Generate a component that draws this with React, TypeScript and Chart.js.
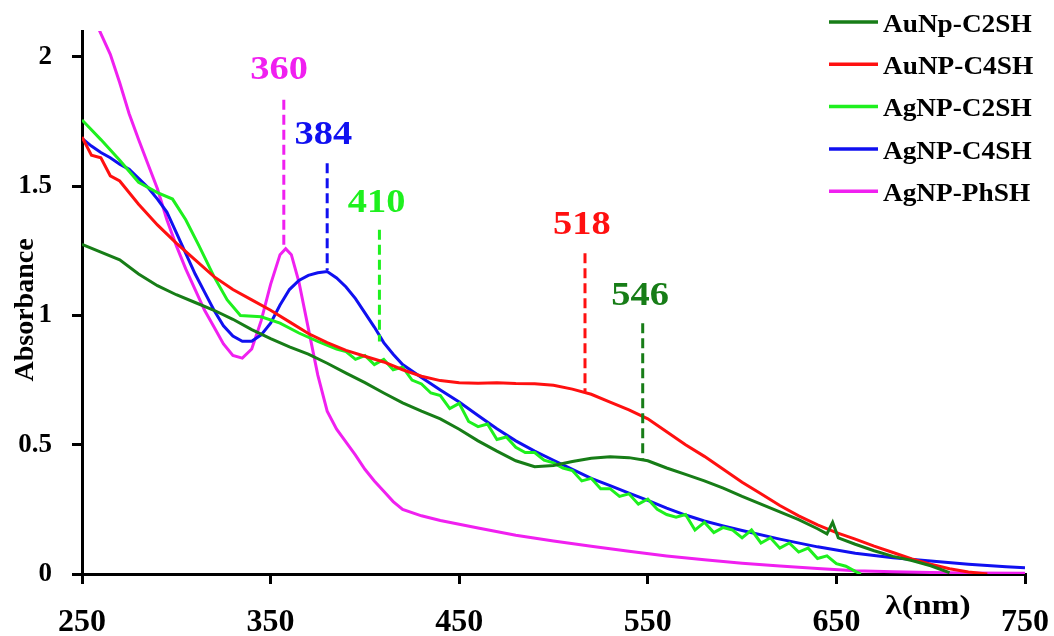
import { useEffect, useRef } from "react";
import { Chart, registerables } from "chart.js";

Chart.register(...registerables);

// ---------- data ----------
const seriesLabels = ["AuNp-C2SH", "AuNP-C4SH", "AgNP-C2SH", "AgNP-C4SH", "AgNP-PhSH"];
const seriesColors = ["#177d17", "#ff1010", "#1ef01e", "#1010f0", "#f020f0"];

const auC2Wavelength = [250, 260, 270, 280, 290, 300, 310, 320, 330, 340, 350, 360, 370, 380, 390, 400, 410, 420, 430, 440, 450, 460, 470, 480, 490, 500, 510, 520, 530, 540, 550, 560, 570, 580, 590, 600, 610, 620, 630, 640, 645, 648, 651, 660, 670, 680, 690, 700, 710];
const auC2Absorbance = [1.275, 1.245, 1.215, 1.16, 1.115, 1.08, 1.05, 1.02, 0.985, 0.945, 0.91, 0.878, 0.85, 0.815, 0.777, 0.74, 0.70, 0.662, 0.63, 0.60, 0.56, 0.515, 0.475, 0.438, 0.415, 0.42, 0.435, 0.448, 0.453, 0.45, 0.438, 0.41, 0.385, 0.36, 0.332, 0.30, 0.27, 0.24, 0.21, 0.175, 0.155, 0.2, 0.14, 0.115, 0.09, 0.068, 0.052, 0.032, 0.005];

const auC4Wavelength = [250, 255, 260, 265, 270, 280, 290, 300, 310, 320, 330, 340, 350, 360, 370, 380, 390, 400, 410, 420, 430, 440, 450, 460, 470, 480, 490, 500, 510, 520, 530, 540, 550, 560, 570, 580, 590, 600, 610, 620, 630, 640, 650, 660, 670, 680, 690, 700, 710, 720, 730];
const auC4Absorbance = [1.69, 1.62, 1.61, 1.54, 1.52, 1.43, 1.35, 1.28, 1.215, 1.15, 1.10, 1.06, 1.02, 0.975, 0.93, 0.895, 0.865, 0.842, 0.82, 0.79, 0.765, 0.748, 0.74, 0.738, 0.74, 0.737, 0.736, 0.73, 0.715, 0.695, 0.665, 0.635, 0.60, 0.55, 0.50, 0.455, 0.405, 0.355, 0.31, 0.265, 0.225, 0.19, 0.16, 0.135, 0.108, 0.083, 0.058, 0.038, 0.02, 0.008, 0];

const agC2Wavelength = [250, 260, 270, 280, 290, 298, 305, 312, 320, 327, 334, 345, 355, 365, 375, 385, 390, 395, 400, 405, 410, 415, 420, 425, 430, 435, 440, 445, 450, 455, 460, 465, 470, 475, 480, 485, 490, 495, 500, 505, 510, 515, 520, 525, 530, 535, 540, 545, 550, 555, 560, 565, 570, 575, 580, 585, 590, 595, 600, 605, 610, 615, 620, 625, 630, 635, 640, 645, 650, 655, 660, 663];
const agC2Absorbance = [1.756, 1.68, 1.60, 1.515, 1.475, 1.45, 1.37, 1.27, 1.15, 1.06, 1.0, 0.995, 0.97, 0.932, 0.90, 0.87, 0.86, 0.83, 0.845, 0.81, 0.83, 0.79, 0.8, 0.75, 0.735, 0.70, 0.69, 0.64, 0.66, 0.59, 0.57, 0.58, 0.52, 0.53, 0.49, 0.47, 0.47, 0.44, 0.43, 0.41, 0.40, 0.36, 0.37, 0.33, 0.33, 0.30, 0.31, 0.27, 0.29, 0.25, 0.23, 0.22, 0.23, 0.17, 0.2, 0.16, 0.18, 0.17, 0.14, 0.17, 0.12, 0.14, 0.10, 0.12, 0.085, 0.1, 0.06, 0.07, 0.04, 0.03, 0.01, 0];

const agC4Wavelength = [250, 255, 260, 265, 270, 275, 280, 285, 290, 295, 300, 305, 310, 315, 320, 325, 330, 335, 340, 345, 350, 355, 360, 365, 370, 375, 380, 385, 390, 395, 400, 405, 410, 415, 420, 430, 440, 450, 460, 470, 480, 490, 500, 510, 520, 530, 540, 550, 560, 570, 580, 590, 600, 620, 640, 660, 680, 700, 720, 740, 750];
const agC4Absorbance = [1.685, 1.655, 1.63, 1.61, 1.585, 1.565, 1.53, 1.495, 1.45, 1.40, 1.32, 1.24, 1.16, 1.09, 1.02, 0.96, 0.92, 0.90, 0.90, 0.925, 0.97, 1.04, 1.10, 1.135, 1.155, 1.165, 1.17, 1.145, 1.11, 1.065, 1.01, 0.955, 0.895, 0.85, 0.81, 0.76, 0.712, 0.665, 0.613, 0.562, 0.515, 0.475, 0.44, 0.405, 0.37, 0.342, 0.313, 0.285, 0.255, 0.228, 0.205, 0.186, 0.168, 0.135, 0.105, 0.08, 0.063, 0.05, 0.038, 0.028, 0.024];

const agPhWavelength = [250, 255, 260, 265, 270, 275, 280, 285, 290, 295, 300, 305, 310, 315, 320, 325, 330, 335, 340, 345, 350, 355, 358, 361, 365, 370, 375, 380, 385, 390, 395, 400, 405, 410, 415, 420, 430, 440, 460, 480, 500, 520, 540, 560, 580, 600, 620, 640, 660, 680, 700, 720, 750];
const agPhAbsorbance = [2.26, 2.17, 2.09, 2.01, 1.90, 1.78, 1.68, 1.585, 1.49, 1.37, 1.27, 1.18, 1.10, 1.02, 0.955, 0.89, 0.845, 0.835, 0.87, 0.98, 1.12, 1.235, 1.258, 1.235, 1.13, 0.95, 0.77, 0.63, 0.56, 0.51, 0.46, 0.405, 0.36, 0.32, 0.28, 0.25, 0.225, 0.207, 0.178, 0.15, 0.128, 0.107, 0.088, 0.07, 0.055, 0.042, 0.031, 0.021, 0.013, 0.009, 0.006, 0.004, 0.003];

const seriesWavelengths = [auC2Wavelength, auC4Wavelength, agC2Wavelength, agC4Wavelength, agPhWavelength];
const seriesAbsorbances = [auC2Absorbance, auC4Absorbance, agC2Absorbance, agC4Absorbance, agPhAbsorbance];

// peak annotations
const peakLabels = ["360", "384", "410", "518", "546"];
const peakSeries = [4, 3, 2, 1, 0];
const peakLineX = [357, 380, 407.7, 516.7, 547.3];
const peakLineTop = [1.834, 1.589, 1.331, 1.24, 0.97];
const peakLineBottom = [1.266, 1.176, 0.899, 0.705, 0.441];
const peakLabelX = [354.5, 378, 406.2, 515, 545.9];
const peakLabelY = [1.95, 1.698, 1.435, 1.35, 1.073];

const xAxisTitle = "λ(nm)";
const yAxisTitle = "Absorbance";

const FONT = "'Liberation Serif', 'Times New Roman', serif";

function stretchedText(ctx: any, text: string, x: number, y: number, sx: number) {
  ctx.save();
  ctx.translate(x, y);
  ctx.scale(sx, 1);
  ctx.fillText(text, 0, 0);
  ctx.restore();
}

const overlayPlugin = {
  id: "overlay",
  afterDatasetsDraw(chart: any) {
    const { ctx } = chart;
    const xs = chart.scales.x;
    const ys = chart.scales.y;
    peakLabels.forEach((label, i) => {
      const color = seriesColors[peakSeries[i]];
      const px = xs.getPixelForValue(peakLineX[i]);
      ctx.save();
      ctx.strokeStyle = color;
      ctx.lineWidth = 3;
      ctx.setLineDash([10, 5]);
      ctx.beginPath();
      ctx.moveTo(px, ys.getPixelForValue(peakLineTop[i]));
      ctx.lineTo(px, ys.getPixelForValue(peakLineBottom[i]));
      ctx.stroke();
      ctx.setLineDash([]);
      ctx.fillStyle = color;
      ctx.font = `bold 34px ${FONT}`;
      ctx.textAlign = "center";
      ctx.textBaseline = "middle";
      stretchedText(ctx, label, xs.getPixelForValue(peakLabelX[i]), ys.getPixelForValue(peakLabelY[i]), 1.13);
      ctx.restore();
    });
  },
  afterDraw(chart: any) {
    const { ctx } = chart;
    ctx.save();
    // legend
    const lx0 = 829;
    const lx1 = 878;
    const ly0 = 22;
    const lstep = 42.3;
    seriesLabels.forEach((label, i) => {
      const yy = ly0 + i * lstep;
      ctx.strokeStyle = seriesColors[i];
      ctx.lineWidth = 3.5;
      ctx.beginPath();
      ctx.moveTo(lx0, yy);
      ctx.lineTo(lx1, yy);
      ctx.stroke();
      ctx.fillStyle = "#000";
      ctx.font = `bold 26px ${FONT}`;
      ctx.textAlign = "left";
      ctx.textBaseline = "middle";
      stretchedText(ctx, label, 883, yy + 3, 1.05);
    });
    // axis titles
    ctx.fillStyle = "#000";
    ctx.font = `bold 28px ${FONT}`;
    ctx.textAlign = "center";
    ctx.textBaseline = "middle";
    stretchedText(ctx, xAxisTitle, 928, 607, 1.2);
    ctx.save();
    ctx.translate(26, 310);
    ctx.rotate(-Math.PI / 2);
    ctx.font = `bold 28px ${FONT}`;
    ctx.fillText(yAxisTitle, 0, 0);
    ctx.restore();
    ctx.restore();
  },
};

export default function App() {
  const canvasRef = useRef<HTMLCanvasElement | null>(null);

  useEffect(() => {
    if (!canvasRef.current) return;
    const datasets = seriesLabels.map((label, i) => ({
      label,
      data: seriesWavelengths[i].map((w, j) => ({ x: w, y: seriesAbsorbances[i][j] })),
      borderColor: seriesColors[i],
      backgroundColor: seriesColors[i],
      borderWidth: 3,
      pointRadius: 0,
      fill: false,
      tension: 0,
    }));
    const chart = new Chart(canvasRef.current, {
      type: "line",
      data: { datasets },
      options: {
        responsive: false,
        animation: false,
        layout: { padding: { left: 0, right: 29, top: 31, bottom: 0 } },
        plugins: { legend: { display: false }, tooltip: { enabled: false } },
        scales: {
          x: {
            type: "linear",
            min: 250,
            max: 750,
            ticks: {
              stepSize: 100,
              color: "#000",
              font: { family: FONT, size: 32, weight: "bold" },
              padding: 20,
              maxRotation: 0,
              autoSkip: false,
              includeBounds: false,
            },
            grid: { drawOnChartArea: false, drawTicks: true, tickLength: 10, color: "#000", lineWidth: 3 },
            border: { display: true, color: "#000", width: 3 },
            afterFit: (s: any) => {
              s.height = 62;
              s.paddingLeft = 0;
              s.paddingRight = 0;
            },
          },
          y: {
            type: "linear",
            min: 0,
            max: 2.1,
            ticks: {
              stepSize: 0.5,
              color: "#000",
              font: { family: FONT, size: 27, weight: "bold" },
              padding: 20,
              includeBounds: false,
              callback: (v: any) => String(Number(v)),
            },
            grid: { drawOnChartArea: false, drawTicks: true, tickLength: 10, color: "#000", lineWidth: 3 },
            border: { display: true, color: "#000", width: 3 },
            afterFit: (s: any) => {
              s.width = 82;
              s.paddingTop = 0;
              s.paddingBottom = 0;
            },
          },
        },
      } as any,
      plugins: [overlayPlugin],
    });
    return () => chart.destroy();
  }, []);

  return (
    <div style={{ position: "fixed", left: 0, top: 0, width: 1054, height: 636, background: "#fff" }}>
      <canvas ref={canvasRef} width={1054} height={636} style={{ display: "block", width: 1054, height: 636 }} />
    </div>
  );
}
